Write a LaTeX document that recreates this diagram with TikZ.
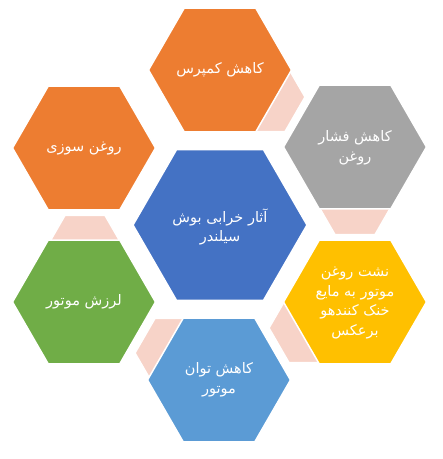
\documentclass[tikz,border=0pt]{standalone}
\usepackage{fontspec}
\usetikzlibrary{shapes.geometric}
\newfontfamily\arabicfont[Script=Arabic]{DejaVu Sans}
\TeXXeTstate=1
\definecolor{corange}{HTML}{ED7D31}
\definecolor{cgray}{HTML}{A5A5A5}
\definecolor{cyellow}{HTML}{FFC000}
\definecolor{cblue}{HTML}{4472C4}
\definecolor{clblue}{HTML}{5B9BD5}
\definecolor{cgreen}{HTML}{70AD47}
\definecolor{cpink}{RGB}{247,211,200}
\begin{document}
\begin{tikzpicture}[x=1pt,y=-1pt,
  hexa/.style={regular polygon, regular polygon sides=6, draw=white, line width=1.5pt, inner sep=0pt, outer sep=0pt},
  outerhex/.style={hexa, minimum size=143pt},
  linkhex/.style={hexa, minimum size=80pt, fill=cpink},
  lbl/.style={text=white, font=\arabicfont\fontsize{14.5}{19.5}\selectfont, align=center, inner sep=0pt}]
\useasboundingbox (0,0) rectangle (443,459);
% connector hexagons
\node[linkhex] (l12) at (265,97) {};
\node[linkhex] (l23) at (355,200) {};
\node[linkhex] (l34) at (309,328) {};
\node[linkhex] (l45) at (175,353) {};
\node[linkhex] (l56) at (85,250) {};
% outer hexagons
\node[outerhex, fill=corange] (h1) at (220,70) {};
\node[outerhex, fill=cgray] (h2) at (355,147) {};
\node[outerhex, fill=cyellow] (h3) at (355,302) {};
\node[outerhex, fill=clblue] (h4) at (219,380) {};
\node[outerhex, fill=cgreen] (h5) at (84,302) {};
\node[outerhex, fill=corange] (h6) at (84,148) {};
% centre
\node[hexa, minimum size=174pt, fill=cblue] (hc) at (220,225) {};
% labels
\node[lbl] (t1) at (h1) {\beginR کاهش کمپرس\endR};
\node[lbl] (t2) at ([yshift=-1pt]h2.center) {\beginR کاهش فشار\endR\\\beginR روغن\endR};
\node[lbl] (t3) at ([yshift=-1pt]h3.center) {\beginR نشت روغن\endR\\\beginR موتور به مایع\endR\\\beginR خنک کنندهو\endR\\\beginR برعکس\endR};
\node[lbl] (t4) at (h4) {\beginR کاهش توان\endR\\\beginR موتور\endR};
\node[lbl] (t5) at (h5) {\beginR لرزش موتور\endR};
\node[lbl] (t6) at (h6) {\beginR روغن سوزی\endR};
\node[lbl] (tc) at ([yshift=-2pt]hc.center) {\beginR آثار خرابی بوش\endR\\\beginR سیلندر\endR};
\end{tikzpicture}
\end{document}
